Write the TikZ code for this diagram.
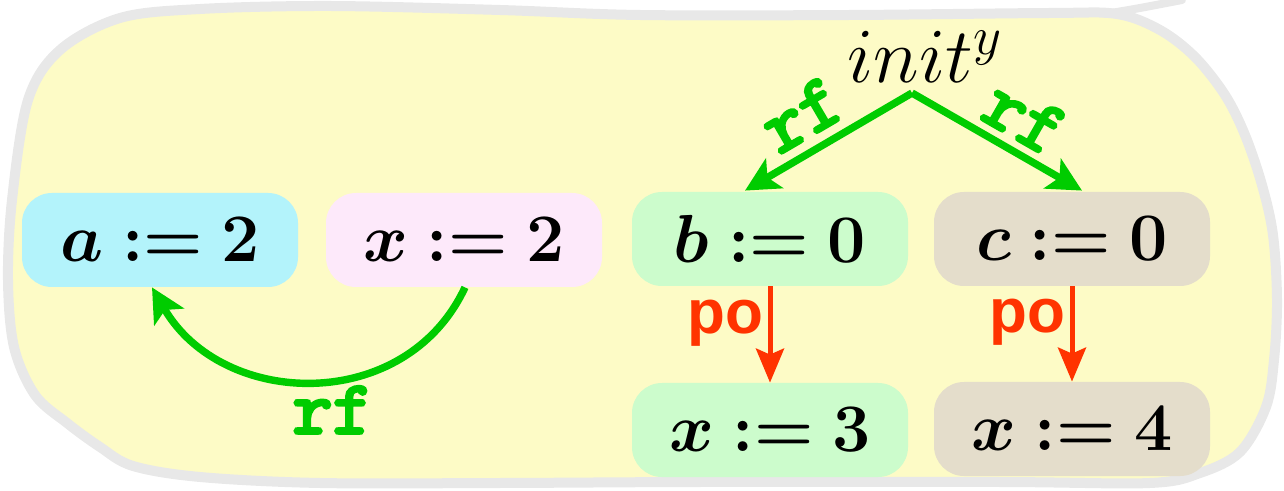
\RequirePackage{fix-cm}
\documentclass[tikz,border=0pt]{standalone}
\usepackage{amsmath,bm}
\usepackage{fontspec}
\newfontfamily\posans{Liberation Sans}
\newfontfamily\rfmono{lmmono10-regular}[Extension=.otf, FakeBold=4]
\usetikzlibrary{arrows.meta,calc}
\definecolor{yellowbg}{HTML}{FDFBC6}
\definecolor{grayline}{HTML}{E8E8E8}
\definecolor{cyanbox}{HTML}{B3F3FB}
\definecolor{pinkbox}{HTML}{FDE9FA}
\definecolor{greenbox}{HTML}{CCFCCC}
\definecolor{tanbox}{HTML}{E4DDCB}
\definecolor{rfgreen}{HTML}{00CC00}
\definecolor{pored}{HTML}{FF3300}
\begin{document}
\begin{tikzpicture}[x=0.5pt,y=-0.5pt,
  ev/.style={rounded corners=15pt, minimum width=138pt, minimum height=47pt, inner sep=0pt,
    font=\fontsize{34}{40}\selectfont},
  rfarrow/.style={draw=rfgreen, line width=3.7pt, -{Stealth[length=17pt,width=17pt,inset=4pt]}},
  poarrow/.style={draw=pored, line width=2.5pt, -{Stealth[length=17pt,width=14pt,inset=3pt]}},
  rflabel/.style={text=rfgreen, font=\rfmono\bfseries\fontsize{38}{38}\selectfont, inner sep=1pt},
  polabel/.style={text=pored, font=\posans\bfseries\fontsize{31}{31}\selectfont, inner sep=2pt}]
\useasboundingbox (0,0) rectangle (1284,491);
% background blob
\draw[grayline, line width=5pt, fill=yellowbg] plot[smooth cycle, tension=0.55] coordinates {
 (12,200) (28,100) (60,50) (120,18) (200,9) (330,6) (500,10) (640,15) (850,15) (1050,13)
 (1117,14) (1160,30) (1195,57) (1225,95) (1245,135) (1262,185) (1273,235) (1277,300)
 (1274,360) (1266,407) (1240,452) (1200,473) (1150,483) (1000,482) (700,482) (500,483)
 (320,483) (200,477) (133,466) (100,447) (67,423) (35,395) (14,347) (8,280)};
\draw[grayline, line width=4pt, line cap=round] plot[smooth] coordinates {(1105,14) (1140,8) (1182,0)};
% events
\node[ev, fill=cyanbox]  (a)  at (160,240) {$\boldsymbol{a := 2}$};
\node[ev, fill=pinkbox]  (x2) at (464,240) {$\boldsymbol{x := 2}$};
\node[ev, fill=greenbox] (b)  at (770,239) {$\boldsymbol{b := 0}$};
\node[ev, fill=tanbox]   (c)  at (1072,239) {$\boldsymbol{c := 0}$};
\node[ev, fill=greenbox] (x3) at (770,430) {$\boldsymbol{x := 3}$};
\node[ev, fill=tanbox]   (x4) at (1072,429) {$\boldsymbol{x := 4}$};
\node[anchor=base, inner sep=0pt, font=\fontsize{39}{40}\selectfont] (init) at (925,83) {$init^y$};
\coordinate (apex) at (912,93);
% rf from init
\draw[rfarrow] (apex) -- node[rflabel, sloped, above=4pt, pos=0.55] {rf} ($(b.north)+(-25,-1)$);
\draw[rfarrow] (apex) -- node[rflabel, sloped, above=3pt, pos=0.56] {rf} ($(c.north)+(10,-1)$);
% po
\draw[poarrow] (b.south) -- node[polabel, pos=0.38, anchor=east] {po} (x3.north);
\draw[poarrow] (c.south) -- node[polabel, pos=0.38, anchor=east] {po} (x4.north);
% rf curved
\draw[rfarrow] ([xshift=0.5pt]x2.south) to[out=-115, in=-60, looseness=1.15]
  node[rflabel, pos=0.5, below=0pt, xshift=10pt] {rf} ([xshift=-4pt]a.south);
\end{tikzpicture}
\end{document}
